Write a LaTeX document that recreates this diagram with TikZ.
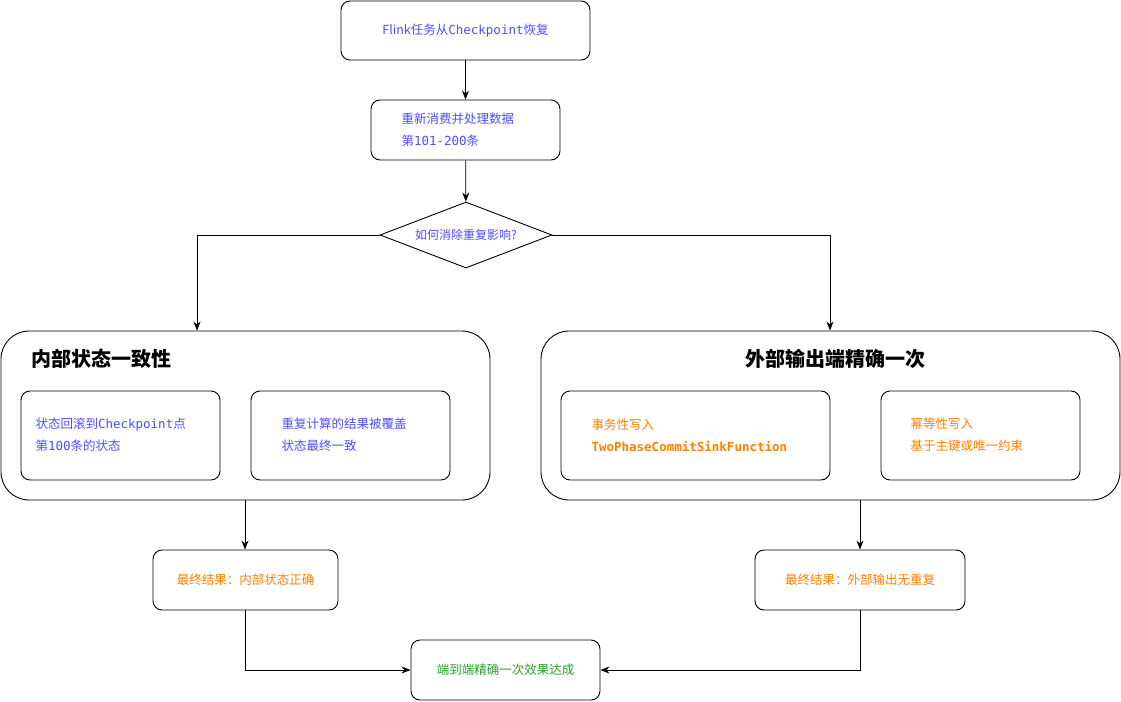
\documentclass[tikz,border=0pt]{standalone}
\usepackage{fontspec}
\setmainfont{Noto Sans CJK SC}
\newfontfamily\mono{DejaVu Sans Mono}
\usetikzlibrary{shapes.geometric,arrows.meta}
\definecolor{tb}{HTML}{4D4DFF}
\definecolor{to}{HTML}{FF8000}
\definecolor{tg}{HTML}{2E9E2E}
\newcommand{\mm}[1]{{\mono #1}}
\begin{document}
\begin{tikzpicture}[x=1pt,y=-1pt,
 box/.style={draw,rounded corners=9pt,line width=0.9pt,font=\fontsize{12.5}{20}\selectfont},
 big/.style={draw,rounded corners=28pt,line width=0.9pt},
 arr/.style={-{Stealth[length=9pt,width=7pt]},line width=0.8pt},
 txt/.style={align=left,font=\fontsize{12.5}{22}\selectfont}]
\useasboundingbox (0,0) rectangle (1121,701);
\node[box,minimum width=249,minimum height=59,text=tb] (a) at (465.5,30.5) {Flink任务从\mm{Checkpoint}恢复};
\node[box,minimum width=189,minimum height=60] (b) at (465.5,130) {};
\node[txt,text=tb,anchor=west] at (398,130) {重新消费并处理数据\\第\mm{101-200}条};
\node[draw,diamond,aspect=2.6,line width=0.9pt,minimum width=172,minimum height=66,inner sep=0,text=tb,font=\fontsize{12}{14}\selectfont] (c) at (466,235) {如何消除重复影响?};
\node[big,minimum width=489,minimum height=169] (L) at (245.5,415.5) {};
\node[big,minimum width=579,minimum height=169] (R) at (830.5,415.5) {};
\node[font=\fontsize{20}{24}\selectfont\bfseries,anchor=west] at (28,359) {内部状态一致性};
\node[font=\fontsize{20}{24}\selectfont\bfseries] at (835,359) {外部输出端精确一次};
\node[box,minimum width=199,minimum height=89] (l1) at (120.5,435.5) {};
\node[txt,text=tb,anchor=west] at (32,435) {状态回滚到\mm{Checkpoint}点\\第\mm{100}条的状态};
\node[box,minimum width=199,minimum height=89] (l2) at (350.5,435.5) {};
\node[txt,text=tb,anchor=west] at (278,435) {重复计算的结果被覆盖\\状态最终一致};
\node[box,minimum width=269,minimum height=89] (r1) at (695.5,435.5) {};
\node[txt,text=to,anchor=west] at (588,435) {事务性写入\\\mm{\bfseries TwoPhaseCommitSinkFunction}};
\node[box,minimum width=199,minimum height=89] (r2) at (980.5,435.5) {};
\node[txt,text=to,anchor=west] at (907,435) {幂等性写入\\基于主键或唯一约束};
\node[box,minimum width=185,minimum height=60,text=to] (d) at (245.5,580) {最终结果：内部状态正确};
\node[box,minimum width=210,minimum height=60,text=to] (e) at (860,580) {最终结果：外部输出无重复};
\node[box,minimum width=189,minimum height=60,text=tg] (f) at (505.5,670) {端到端精确一次效果达成};
\coordinate (xl) at (197,0);
\coordinate (xr) at (830,0);
\coordinate (xd) at (245,0);
\coordinate (xe) at (860,0);
\draw[arr] (c.west) -| (L.north -| xl);
\draw[arr] (c.east) -| (R.north -| xr);
\draw[arr] (L.south -| xd) -- (d.north -| xd);
\draw[arr] (R.south -| xe) -- (e.north -| xe);
\draw[arr] (d.south -| xd) |- (f.west);
\draw[arr] (e.south -| xe) |- (f.east);
\draw[arr] (a) -- (b);
\draw[arr] (b) -- (c);
\end{tikzpicture}
\end{document}
